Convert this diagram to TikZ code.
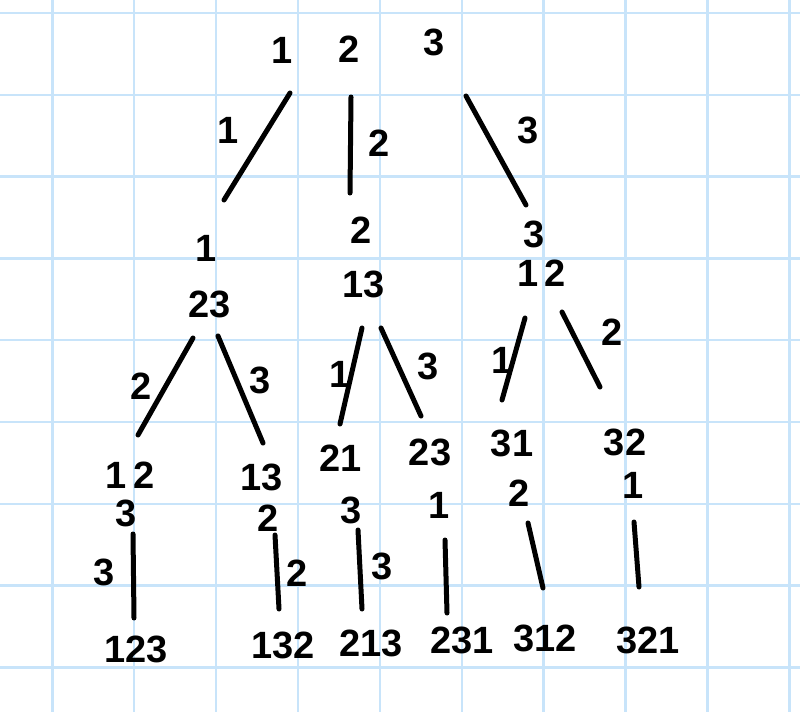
\documentclass[tikz,border=0pt]{standalone}
\usepackage{fontspec}
\setmainfont{Liberation Sans}
\definecolor{gridblue}{RGB}{200,228,250}
\tikzset{
  gridline/.style={draw=gridblue, line width=2.5pt},
  edge/.style={draw=black, line width=5pt, line cap=round},
  dig/.style={inner sep=0pt, font=\fontsize{38}{38}\selectfont\bfseries},
  lab/.style={inner sep=0pt, font=\fontsize{38}{38}\selectfont\bfseries},
}
\begin{document}
\begin{tikzpicture}[x=1pt,y=-1pt]
\useasboundingbox (0,0) rectangle (800,712);
\fill[white] (0,0) rectangle (800,712);
\foreach \k in {0,...,9} \draw[gridline] ({52.3+81.9*\k},0) -- ({52.3+81.9*\k},712);
\foreach \k in {0,...,8} \draw[gridline] (0,{13+81.8*\k}) -- (800,{13+81.8*\k});

% root
\node[dig] (t1) at (282,50) {1};
\node[dig] (t2) at (349,49) {2};
\node[dig] (t3) at (434,42) {3};

% level 1
\node[dig] (n1a) at (206,248) {1};
\node[dig] (n1b) at (210,304) {23};
\node[dig] (n2a) at (361,230) {2};
\node[dig] (n2b) at (364,284) {13};
\node[dig] (n3a) at (534,234) {3};
\node[dig] (n3b) at (542,273) {1\hspace{6pt}2};

% level 2
\node[dig] (m1a) at (130,475) {1\hspace{7pt}2};
\node[dig] (m1b) at (126,513) {3};
\node[dig] (m2a) at (262,477) {13};
\node[dig] (m2b) at (268,518) {2};
\node[dig] (m3a) at (341,458) {21};
\node[dig] (m3b) at (351,510) {3};
\node[dig] (m4a) at (430,452) {23};
\node[dig] (m4b) at (439,505) {1};
\node[dig] (m5a) at (512,443) {31};
\node[dig] (m5b) at (519,493) {2};
\node[dig] (m6a) at (625,442) {32};
\node[dig] (m6b) at (633,485) {1};

% leaves
\node[dig] (p1) at (136,649) {123};
\node[dig] (p2) at (283,645) {132};
\node[dig] (p3) at (371,643) {213};
\node[dig] (p4) at (462,640) {231};
\node[dig] (p5) at (545,638) {312};
\node[dig] (p6) at (648,640) {321};

% edge end points
\coordinate (a1) at (290,93);  \coordinate (a2) at (224,200);
\coordinate (b1) at (351,97);  \coordinate (b2) at (350,193);
\coordinate (c1) at (466,96);  \coordinate (c2) at (526,205);
\coordinate (d1) at (193,338); \coordinate (d2) at (138,435);
\coordinate (e1) at (218,336); \coordinate (e2) at (263,443);
\coordinate (f1) at (362,328); \coordinate (f2) at (340,424);
\coordinate (g1) at (381,328); \coordinate (g2) at (421,416);
\coordinate (h1) at (525,318); \coordinate (h2) at (502,400);
\coordinate (i1) at (562,312); \coordinate (i2) at (600,387);
\coordinate (j1) at (133,534); \coordinate (j2) at (134,618);
\coordinate (k1) at (275,535); \coordinate (k2) at (279,609);
\coordinate (l1) at (358,530); \coordinate (l2) at (362,609);
\coordinate (q1) at (445,540); \coordinate (q2) at (447,613);
\coordinate (r1) at (528,523); \coordinate (r2) at (543,588);
\coordinate (s1) at (634,522); \coordinate (s2) at (639,587);

\draw[edge] (a1) -- (a2);
\draw[edge] (b1) -- (b2);
\draw[edge] (c1) -- (c2);
\draw[edge] (d1) -- (d2);
\draw[edge] (e1) -- (e2);
\draw[edge] (f1) -- (f2);
\draw[edge] (g1) -- (g2);
\draw[edge] (h1) -- (h2);
\draw[edge] (i1) -- (i2);
\draw[edge] (j1) -- (j2);
\draw[edge] (k1) -- (k2);
\draw[edge] (l1) -- (l2);
\draw[edge] (q1) -- (q2);
\draw[edge] (r1) -- (r2);
\draw[edge] (s1) -- (s2);

% edge labels
\node[lab] (la) at (228,130) {1};
\node[lab] (lb) at (379,143) {2};
\node[lab] (lc) at (528,130) {3};
\node[lab] (ld) at (141,386) {2};
\node[lab] (le) at (260,380) {3};
\node[lab] (lf) at (340,374) {1};
\node[lab] (lg) at (428,366) {3};
\node[lab] (lh) at (502,360) {1};
\node[lab] (li) at (612,332) {2};
\node[lab] (lj) at (104,572) {3};
\node[lab] (lk) at (297,573) {2};
\node[lab] (ll) at (382,566) {3};
\end{tikzpicture}
\end{document}
